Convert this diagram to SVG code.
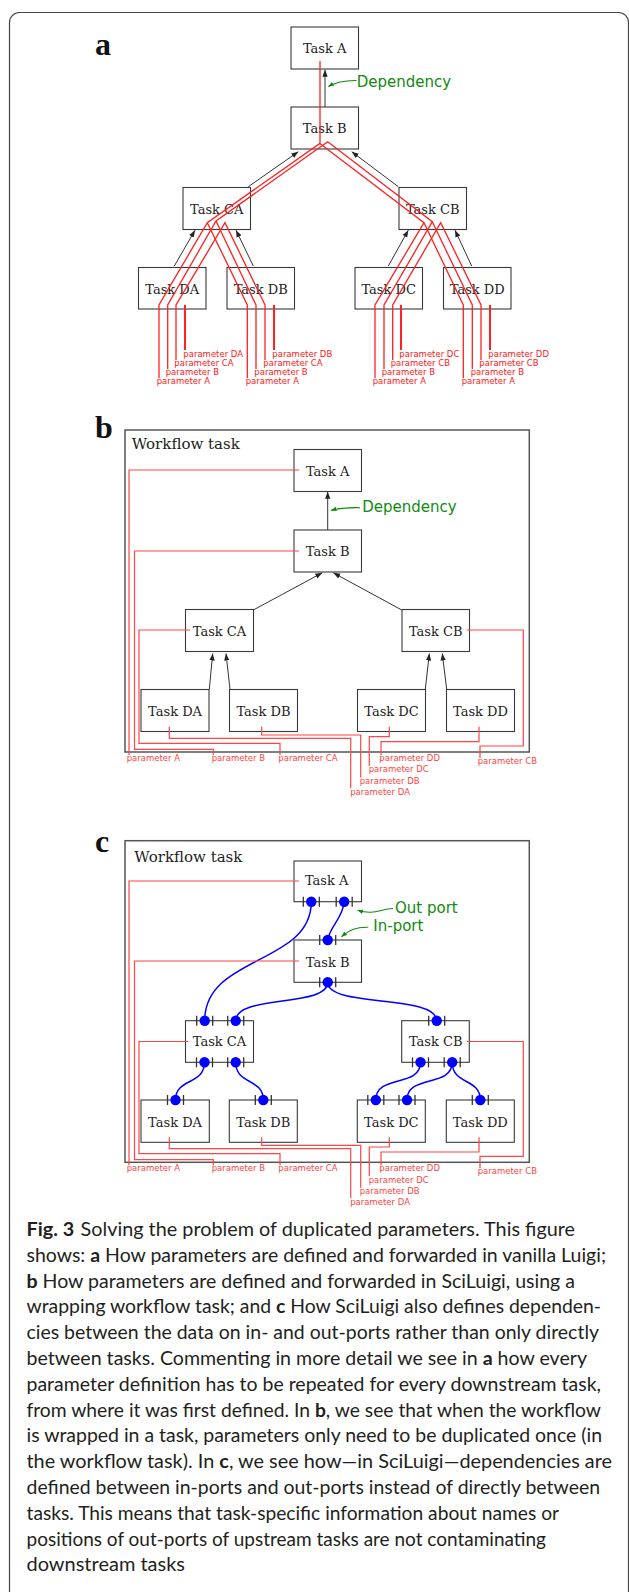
<svg xmlns="http://www.w3.org/2000/svg" width="629" height="1592" viewBox="0 0 629 1592">
<style>
.box{fill:#fff;stroke:#3a3a3a;stroke-width:1.1}
.tt{font-family:"DejaVu Serif",serif;font-size:13px;fill:#222;text-anchor:middle}
.wf{fill:none;stroke:#555;stroke-width:1.5}
.wft{font-family:"DejaVu Serif",serif;font-size:15px;fill:#222}
.dep{stroke:#333;stroke-width:1;fill:none;marker-end:url(#ah)}
.pr{stroke:#ff2020;stroke-width:1.3;fill:none}
.prd{stroke:#ff2020;stroke-width:2;fill:none}
.pr2{stroke:#ff4545;stroke-width:1.2;fill:none}
.pl{font-family:"DejaVu Sans",sans-serif;font-size:8.5px;fill:#ff2020}
.pl2{font-family:"DejaVu Sans",sans-serif;font-size:8.5px;fill:#ff4545}
.gl{font-family:"DejaVu Sans",sans-serif;font-size:15px;fill:#0f8a0f}
.gp{stroke:#0f8a0f;stroke-width:1.1;fill:none;marker-end:url(#ag)}
.blue{stroke:#0000ff;stroke-width:1.5;fill:none}
.tick{stroke:#333;stroke-width:1.3}
.dot{fill:#0000ff}
.lab{font-family:"Liberation Serif",serif;font-weight:bold;font-size:32px;fill:#111}
.cap{font-family:Lato,"Open Sans",sans-serif;font-size:18.5px;fill:#231f20}
.cap tspan.b{font-weight:bold}
</style>
<defs>
<marker id="ah" viewBox="0 0 10 10" refX="10" refY="5" markerWidth="7" markerHeight="7" markerUnits="userSpaceOnUse" orient="auto"><path d="M0,1.2 L10,5 L0,8.8 z" fill="#222"/></marker>
<marker id="ag" viewBox="0 0 10 10" refX="10" refY="5" markerWidth="5.5" markerHeight="5.5" markerUnits="userSpaceOnUse" orient="auto"><path d="M0,1 L10,5 L0,9 z" fill="#0f8a0f"/></marker>
<g id="port"><line class="tick" x1="-8" y1="-5" x2="-8" y2="5"/><line class="tick" x1="8" y1="-5" x2="8" y2="5"/><circle class="dot" r="5.2"/></g>
</defs>
<rect x="9.5" y="12.5" width="619" height="1620" rx="10" fill="#fff" stroke="#444" stroke-width="1.2"/>

<!-- Panel a -->
<text class="lab" x="95" y="55">a</text>
<g id="a-taskA"><rect class="box" x="291" y="27" width="67.5" height="42"/><text class="tt" x="324.7" y="53">Task A</text></g>
<g id="a-taskB"><rect class="box" x="291" y="107" width="67.5" height="42"/><text class="tt" x="324.7" y="133">Task B</text></g>
<g id="a-taskCA"><rect class="box" x="183" y="187.5" width="67.5" height="42"/><text class="tt" x="216.7" y="213.5">Task CA</text></g>
<g id="a-taskCB"><rect class="box" x="399" y="187.5" width="67.5" height="42"/><text class="tt" x="432.7" y="213.5">Task CB</text></g>
<g id="a-taskDA"><rect class="box" x="138.5" y="267.5" width="67.5" height="41.5"/><text class="tt" x="172.2" y="293.5">Task DA</text></g>
<g id="a-taskDB"><rect class="box" x="227" y="267.5" width="67.5" height="41.5"/><text class="tt" x="260.7" y="293.5">Task DB</text></g>
<g id="a-taskDC"><rect class="box" x="355" y="267.5" width="67.5" height="41.5"/><text class="tt" x="388.7" y="293.5">Task DC</text></g>
<g id="a-taskDD"><rect class="box" x="443.5" y="267.5" width="67.5" height="41.5"/><text class="tt" x="477.2" y="293.5">Task DD</text></g>

<g id="a-connectors">
<path class="dep" d="M325,107 V69.8"/>
<path class="dep" d="M248.3,186.7 L298.3,151.7"/>
<path class="dep" d="M398.3,186.7 L351.7,151.7"/>
<path class="dep" d="M174.3,266 L195,230.2"/>
<path class="dep" d="M253.3,266 L236,230.2"/>
<path class="dep" d="M388.3,266 L408.3,230.2"/>
<path class="dep" d="M471.7,266 L455,230.2"/>
<path class="gp" d="M356.5,80.5 C346,80.3 337,81.5 328.2,86.6"/>
<text class="gl" x="356.7" y="86.7">Dependency</text>
<path class="pr" d="M320,61 V143.3 L207.3,222.7 L159,305 V378 M207.3,222.7 L247.3,305 V378 M319.5,143.3 L424,222.7 L375,305 V378 M424,222.7 L463.3,305 V378"/>
<path class="pr" d="M167.7,369 V305 L216,221 L327.7,141.7 L432.3,221.7 L384,305 V369 M216,221 L256,305 V369 M432.3,221.7 L472.3,305 V369"/>
<path class="pr" d="M176,360 V305 L225,222.7 L265,305 V360"/>
<path class="pr" d="M392.7,360 V305 L440.7,222.7 L481,305 V360"/>
<path class="prd" d="M185,305 V350 M274,305 V350 M401,305 V350 M490,305 V350"/>
<text class="pl" x="183.3" y="356.7">parameter DA</text>
<text class="pl" x="174.3" y="366">parameter CA</text>
<text class="pl" x="165.7" y="375">parameter B</text>
<text class="pl" x="156.7" y="384.3">parameter A</text>
<text class="pl" x="272.3" y="356.7">parameter DB</text>
<text class="pl" x="263.3" y="366">parameter CA</text>
<text class="pl" x="254.3" y="375">parameter B</text>
<text class="pl" x="245.7" y="384.3">parameter A</text>
<text class="pl" x="399.3" y="356.7">parameter DC</text>
<text class="pl" x="390.7" y="366">parameter CB</text>
<text class="pl" x="381.7" y="375">parameter B</text>
<text class="pl" x="372.7" y="384.3">parameter A</text>
<text class="pl" x="488.3" y="356.7">parameter DD</text>
<text class="pl" x="479.3" y="366">parameter CB</text>
<text class="pl" x="470.7" y="375">parameter B</text>
<text class="pl" x="461.7" y="384.3">parameter A</text>
</g>

<!-- Panel b -->
<text class="lab" x="95" y="438">b</text>
<g id="b-workflow"><rect class="wf" x="125" y="430" width="404.3" height="322"/><text class="wft" x="131.7" y="449.3">Workflow task</text></g>
<g id="b-taskA"><rect class="box" x="294" y="449.5" width="67.5" height="42"/><text class="tt" x="327.7" y="475.5">Task A</text></g>
<g id="b-taskB"><rect class="box" x="294" y="530" width="67.5" height="42"/><text class="tt" x="327.7" y="556">Task B</text></g>
<g id="b-taskCA"><rect class="box" x="185.5" y="609.5" width="68" height="42"/><text class="tt" x="219.5" y="635.5">Task CA</text></g>
<g id="b-taskCB"><rect class="box" x="402" y="609.5" width="67.5" height="42"/><text class="tt" x="435.7" y="635.5">Task CB</text></g>
<g id="b-taskDA"><rect class="box" x="141" y="689.5" width="68" height="42"/><text class="tt" x="175" y="715.5">Task DA</text></g>
<g id="b-taskDB"><rect class="box" x="229.5" y="689.5" width="68" height="42"/><text class="tt" x="263.5" y="715.5">Task DB</text></g>
<g id="b-taskDC"><rect class="box" x="357.5" y="689.5" width="68" height="42"/><text class="tt" x="391.5" y="715.5">Task DC</text></g>
<g id="b-taskDD"><rect class="box" x="446.5" y="689.5" width="68" height="42"/><text class="tt" x="480.5" y="715.5">Task DD</text></g>

<g id="b-connectors">
<path class="dep" d="M327.7,530 V491.8"/>
<path class="dep" d="M253.3,610 L322.3,572.8"/>
<path class="dep" d="M401.7,610 L333.3,572.8"/>
<path class="dep" d="M209.3,689.3 L212.7,653.5"/>
<path class="dep" d="M230,689.3 L226,653.5"/>
<path class="dep" d="M425.3,689.3 L429.3,653.5"/>
<path class="dep" d="M446.7,689.3 L442.3,653.5"/>
<path class="gp" d="M360,507.7 C350,507.5 340,508 331,510.4"/>
<text class="gl" x="362.3" y="511.7">Dependency</text>
<path class="pr2" d="M299,470 H129 V755"/>
<path class="pr2" d="M299,551 H134.5 V749.3 H213.3 V755"/>
<path class="pr2" d="M190,630 H139 V743.3 H280 V755"/>
<path class="pr2" d="M466.7,630 H523.3 V746 H480 V758"/>
<path class="pr2" d="M169.3,726.7 V738.3 H350.7 V788"/>
<path class="pr2" d="M261.7,726.7 V735 H360.7 V777.5"/>
<path class="pr2" d="M389.3,726.7 V736.7 H369.3 V766"/>
<path class="pr2" d="M479,726.7 V741.7 H381 V755"/>
<text class="pl2" x="126.7" y="761">parameter A</text>
<text class="pl2" x="211.7" y="761">parameter B</text>
<text class="pl2" x="278.3" y="761">parameter CA</text>
<text class="pl2" x="379.3" y="761">parameter DD</text>
<text class="pl2" x="477.7" y="764">parameter CB</text>
<text class="pl2" x="368.7" y="772.3">parameter DC</text>
<text class="pl2" x="359.7" y="783.7">parameter DB</text>
<text class="pl2" x="350.2" y="794.5">parameter DA</text>
</g>

<!-- Panel c -->
<text class="lab" x="95" y="851.7">c</text>
<g id="c-workflow"><rect class="wf" x="125" y="840.7" width="404.3" height="321.6"/><text class="wft" x="134.3" y="861.7">Workflow task</text></g>
<g id="c-taskA"><rect class="box" x="294" y="861" width="67.5" height="40.7"/><text class="tt" x="326.7" y="885">Task A</text>
<use href="#port" x="311.3" y="901.7"/><use href="#port" x="344.2" y="901.7"/></g>
<g id="c-taskB"><rect class="box" x="294" y="940" width="67.5" height="42.3"/><text class="tt" x="327.7" y="966.7">Task B</text>
<use href="#port" x="327.7" y="940"/><use href="#port" x="327.7" y="982.3"/></g>
<g id="c-taskCA"><rect class="box" x="185.5" y="1020.7" width="68" height="41.6"/><text class="tt" x="219.5" y="1046">Task CA</text>
<use href="#port" x="204.7" y="1020.7"/><use href="#port" x="235.7" y="1020.7"/><use href="#port" x="204.5" y="1062.3"/><use href="#port" x="235.7" y="1062.3"/></g>
<g id="c-taskCB"><rect class="box" x="401.7" y="1020.7" width="67.6" height="41.6"/><text class="tt" x="435.7" y="1046">Task CB</text>
<use href="#port" x="436.7" y="1020.7"/><use href="#port" x="420.5" y="1062.3"/><use href="#port" x="452.2" y="1062.3"/></g>
<g id="c-taskDA"><rect class="box" x="141" y="1100" width="68.3" height="42.3"/><text class="tt" x="175" y="1126.7">Task DA</text>
<use href="#port" x="175.5" y="1100"/></g>
<g id="c-taskDB"><rect class="box" x="229.3" y="1100" width="68" height="42.3"/><text class="tt" x="263.3" y="1126.7">Task DB</text>
<use href="#port" x="263.3" y="1100"/></g>
<g id="c-taskDC"><rect class="box" x="357.3" y="1100" width="68" height="42.3"/><text class="tt" x="391.3" y="1126.7">Task DC</text>
<use href="#port" x="375.8" y="1100"/><use href="#port" x="407" y="1100"/></g>
<g id="c-taskDD"><rect class="box" x="446.3" y="1100" width="68" height="42.3"/><text class="tt" x="480.3" y="1126.7">Task DD</text>
<use href="#port" x="480.3" y="1100"/></g>

<g id="c-connectors">
<path class="blue" d="M311.3,901.7 C311.3,965 204.7,955 204.7,1020.7"/>
<path class="blue" d="M344.2,901.7 C343,918 330,926 327.7,940"/>
<path class="blue" d="M327.7,982.3 C327.7,1008 235.7,994 235.7,1020.7"/>
<path class="blue" d="M327.7,982.3 C327.7,1008 436.7,994 436.7,1020.7"/>
<path class="blue" d="M204.5,1062.3 C204.5,1085 175.5,1078 175.5,1100"/>
<path class="blue" d="M235.7,1062.3 C235.7,1085 263.3,1078 263.3,1100"/>
<path class="blue" d="M420.5,1062.3 C420.5,1088 375.8,1074 375.8,1100"/>
<path class="blue" d="M452.2,1062.3 C452.2,1088 407,1074 407,1100"/>
<path class="blue" d="M452.2,1062.3 C452.2,1085 480.3,1078 480.3,1100"/>
<path class="gp" d="M393,908.5 C380,909 374,915.5 357.5,910.2"/>
<text class="gl" x="395" y="912.7">Out port</text>
<path class="gp" d="M368.3,927.3 C356,927 350,929.5 341.5,936.8"/>
<text class="gl" x="373.3" y="931">In-port</text>
<path class="pr2" d="M299,881 H129 V1165.3"/>
<path class="pr2" d="M299,961 H134.5 V1159.6 H213.3 V1165.3"/>
<path class="pr2" d="M188.3,1041.5 H139 V1153.6 H280 V1165.3"/>
<path class="pr2" d="M466.7,1041.5 H523.3 V1156.3 H480 V1168.3"/>
<path class="pr2" d="M169.3,1137.3 V1148.6 H350.7 V1198.3"/>
<path class="pr2" d="M261.7,1137.3 V1145.3 H360.7 V1187.8"/>
<path class="pr2" d="M389.3,1137.3 V1147 H369.3 V1176.3"/>
<path class="pr2" d="M479,1137.3 V1152 H381 V1165.3"/>
<text class="pl2" x="126.7" y="1171.3">parameter A</text>
<text class="pl2" x="211.7" y="1171.3">parameter B</text>
<text class="pl2" x="278.3" y="1171.3">parameter CA</text>
<text class="pl2" x="379.3" y="1171.3">parameter DD</text>
<text class="pl2" x="477.7" y="1174.3">parameter CB</text>
<text class="pl2" x="368.7" y="1182.6">parameter DC</text>
<text class="pl2" x="359.7" y="1194">parameter DB</text>
<text class="pl2" x="350.2" y="1204.8">parameter DA</text>
</g>

<!-- Caption -->
<g id="caption" class="cap">
<text class="cap" x="26.5" y="1236" textLength="548.5" lengthAdjust="spacingAndGlyphs"><tspan class="b">Fig. 3</tspan><tspan dx="6">Solving the problem of duplicated parameters. This figure</tspan></text>
<text class="cap" x="26.5" y="1261.8" textLength="579.5" lengthAdjust="spacingAndGlyphs">shows: <tspan class="b">a</tspan> How parameters are defined and forwarded in vanilla Luigi;</text>
<text class="cap" x="26.5" y="1287.6" textLength="548.5" lengthAdjust="spacingAndGlyphs"><tspan class="b">b</tspan> How parameters are defined and forwarded in SciLuigi, using a</text>
<text class="cap" x="26.5" y="1313.4" textLength="574.5" lengthAdjust="spacingAndGlyphs">wrapping workflow task; and <tspan class="b">c</tspan> How SciLuigi also defines dependen-</text>
<text class="cap" x="26.5" y="1339.2" textLength="572.5" lengthAdjust="spacingAndGlyphs">cies between the data on in- and out-ports rather than only directly</text>
<text class="cap" x="26.5" y="1365" textLength="560.5" lengthAdjust="spacingAndGlyphs">between tasks. Commenting in more detail we see in <tspan class="b">a</tspan> how every</text>
<text class="cap" x="26.5" y="1390.8" textLength="574.5" lengthAdjust="spacingAndGlyphs">parameter definition has to be repeated for every downstream task,</text>
<text class="cap" x="26.5" y="1416.6" textLength="574.5" lengthAdjust="spacingAndGlyphs">from where it was first defined. In <tspan class="b">b</tspan>, we see that when the workflow</text>
<text class="cap" x="26.5" y="1442.4" textLength="575.5" lengthAdjust="spacingAndGlyphs">is wrapped in a task, parameters only need to be duplicated once (in</text>
<text class="cap" x="26.5" y="1468.2" textLength="585.5" lengthAdjust="spacingAndGlyphs">the workflow task). In <tspan class="b">c</tspan>, we see how—in SciLuigi—dependencies are</text>
<text class="cap" x="26.5" y="1494" textLength="573.5" lengthAdjust="spacingAndGlyphs">defined between in-ports and out-ports instead of directly between</text>
<text class="cap" x="26.5" y="1519.8" textLength="532.5" lengthAdjust="spacingAndGlyphs">tasks. This means that task-specific information about names or</text>
<text class="cap" x="26.5" y="1545.6" textLength="519.5" lengthAdjust="spacingAndGlyphs">positions of out-ports of upstream tasks are not contaminating</text>
<text class="cap" x="26.5" y="1571.4" textLength="158.5" lengthAdjust="spacingAndGlyphs">downstream tasks</text>
</g>
</svg>
